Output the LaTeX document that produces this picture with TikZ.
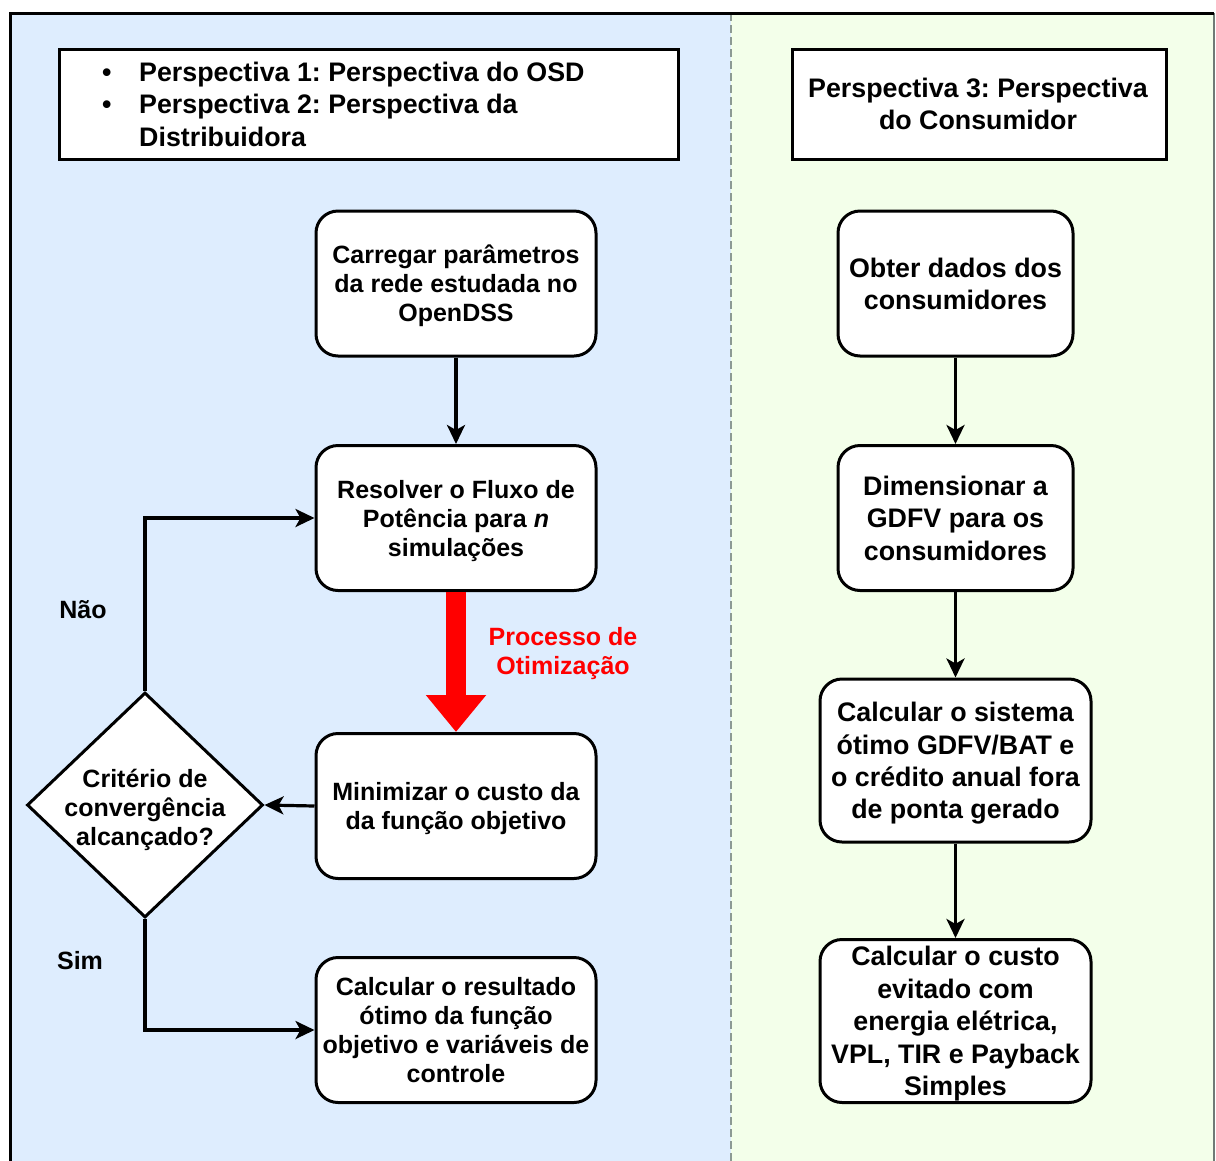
\documentclass[tikz,border=0pt]{standalone}
\usepackage{fontspec}
\setmainfont{Liberation Sans}
\usetikzlibrary{shapes.geometric, arrows.meta}
\frenchspacing

\definecolor{leftbg}{HTML}{DEEDFE}
\definecolor{rightbg}{HTML}{F3FFEA}
\definecolor{divgrey}{HTML}{8C9A94}

\newcommand{\smalltxt}{\fontsize{25}{29}\selectfont\bfseries}
\newcommand{\bigtxt}{\fontsize{26.8}{32.4}\selectfont\bfseries}

\tikzset{
  flowbox/.style={draw=black, line width=3pt, fill=white, rounded corners=22pt,
    inner sep=0pt, align=center, text depth=0pt},
  leftbox/.style={flowbox, minimum width=280pt, minimum height=145pt, font=\smalltxt},
  narrowbox/.style={flowbox, minimum width=235pt, minimum height=145pt, font=\bigtxt},
  widebox/.style={flowbox, minimum width=271pt, minimum height=163pt, font=\bigtxt},
  hdrbox/.style={draw=black, line width=3pt, fill=white, inner sep=0pt, anchor=north west},
  conn/.style={draw=black, line width=3.2pt, -{Stealth[length=19pt,width=18pt,inset=5pt]}},
  lbl/.style={inner sep=0pt, font=\smalltxt, align=center, text depth=0pt}
}

\begin{document}
\begin{tikzpicture}[x=1pt, y=-1pt]
  \useasboundingbox (0,0) rectangle (1216,1160);
  \clip (0,0) rectangle (1216,1160);

  % swimlane backgrounds and frame
  \fill[leftbg] (10,13) rectangle (731,1170);
  \fill[rightbg] (731,13) rectangle (1214,1170);
  \draw[divgrey, line width=1.5pt, dash pattern=on 8pt off 4pt] (731,13) -- (731,1170);
  \draw[divgrey!80!black, line width=1.5pt] (1214,13) -- (1214,1170);
  \draw[black, line width=3pt] (10,1170) -- (10,13) -- (1214,13);

  % headers
  \node[hdrbox, minimum width=619pt, minimum height=110pt] (hdrL) at (58,48) {};
  \node[anchor=west, align=left, inner sep=0pt, font=\bigtxt, text depth=0pt] (hdrLtxt) at (102,104)
    {\makebox[37pt][l]{\textbullet}Perspectiva 1: Perspectiva do OSD\\
     \makebox[37pt][l]{\textbullet}Perspectiva 2: Perspectiva da\\
     \hspace*{37pt}Distribuidora};
  \node[hdrbox, minimum width=374pt, minimum height=110pt] (hdrR) at (791,48) {};
  \node[lbl, font=\bigtxt] (hdrRtxt) at (978,104) {Perspectiva 3: Perspectiva\\do Consumidor};

  % left flow
  \node[leftbox] (A) at (456,283.5) {Carregar parâmetros\\da rede estudada no\\OpenDSS};
  \node[leftbox] (B) at (456,518) {Resolver o Fluxo de\\Potência para \textit{n}\\simulações};
  \node[leftbox] (C) at (456,806) {Minimizar o custo da\\da função objetivo};
  \node[leftbox] (D) at (456,1030) {Calcular o resultado\\ótimo da função\\objetivo e variáveis de\\controle};
  \node[diamond, draw=black, line width=3pt, fill=white, inner sep=0pt,
        minimum width=236pt, minimum height=225pt] (dia) at (145,805) {};
  \node[lbl] (diatxt) at (145,807) {Critério de\\convergência\\alcançado?};

  \draw[conn] (A) -- (B);
  \draw[red, line width=20pt, -{Triangle[length=37pt,width=58pt]}] (B.south) -- (C.north);
  \node[lbl, text=red] (opt) at (563,651) {Processo de\\Otimização};
  \draw[conn] (C.west) -- (dia.east);
  \draw[conn] (dia.north) |- (B.west);
  \draw[conn] (dia.south) |- (D.west);
  \node[lbl] (nao) at (83,609) {Não};
  \node[lbl] (sim) at (80,960) {Sim};

  % right flow
  \node[narrowbox] (E) at (955.5,283.5) {Obter dados dos\\consumidores};
  \node[narrowbox] (F) at (955.5,518) {Dimensionar a\\GDFV para os\\consumidores};
  \node[widebox] (G) at (955.5,760.5) {Calcular o sistema\\ótimo GDFV/BAT e\\o crédito anual fora\\de ponta gerado};
  \node[widebox] (H) at (955.5,1021) {Calcular o custo\\evitado com\\energia elétrica,\\VPL, TIR e Payback\\Simples};

  \draw[conn] (E) -- (F);
  \draw[conn] (F) -- (G);
  \draw[conn] (G) -- (H);
\end{tikzpicture}
\end{document}
